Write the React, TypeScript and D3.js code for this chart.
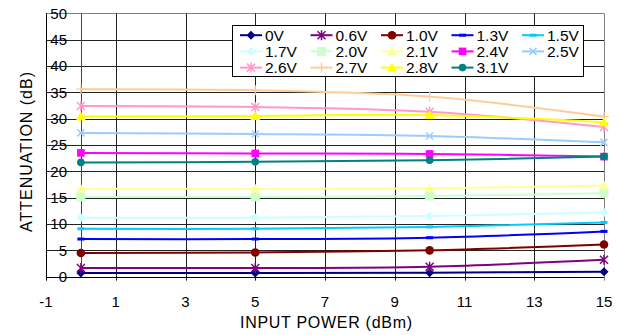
import * as d3 from "d3";

if (typeof document !== "undefined") document.body.style.margin = "0";

const powers = [0, 5, 10, 15];
const seriesNames = ["0V", "0.6V", "1.0V", "1.3V", "1.5V", "1.7V", "2.0V", "2.1V", "2.4V", "2.5V", "2.6V", "2.7V", "2.8V", "3.1V"];
const v0 = [0.7, 0.7, 0.76, 0.95];
const v06 = [1.65, 1.65, 1.9, 3.2];
const v10 = [4.5, 4.6, 5.0, 6.1];
const v13 = [7.15, 7.15, 7.4, 8.6];
const v15 = [9.1, 9.1, 9.45, 10.3];
const v17 = [11.2, 11.2, 11.5, 12.2];
const v20 = [15.15, 15.15, 15.3, 15.85];
const v21 = [16.7, 16.7, 16.8, 17.3];
const v24 = [23.5, 23.4, 23.3, 22.8];
const v25 = [27.3, 27.1, 26.7, 25.5];
const v26 = [32.4, 32.2, 31.3, 28.4];
const v27 = [35.6, 35.4, 34.2, 30.4];
const v28 = [30.4, 30.5, 30.7, 29.3];
const v31 = [21.7, 21.8, 22.1, 22.8];
const seriesValues = [v0, v06, v10, v13, v15, v17, v20, v21, v24, v25, v26, v27, v28, v31];
const colors = ["#000080", "#800080", "#800000", "#0000FF", "#00CCFF", "#CCFFFF", "#CCFFCC", "#FFFF99", "#FF00FF", "#99CCFF", "#FF99CC", "#FFCC99", "#FFFF00", "#008080"];
const markers = ["diamond", "asterisk", "circle", "dash", "dash", "diamond", "square", "triangle", "square", "cross", "asterisk", "plus", "triangle", "circle"];
const xTicks = [-1, 1, 3, 5, 7, 9, 11, 13, 15];
const yTicks = [0, 5, 10, 15, 20, 25, 30, 35, 40, 45, 50];

const W = 626;
const H = 335;
const left = 46;
const right = 604;
const top = 13.3;
const bottom = 276.7;
const font = "Liberation Sans, Arial, sans-serif";

// snap to pixel centre so 1px lines stay crisp
const crisp = (v: number) => Math.round(v) + 0.5;

function Marker({ type, x, y, color }: { type: string; x: number; y: number; color: string }) {
  switch (type) {
    case "diamond":
      return <path d={`M${x},${y - 4.5}L${x + 4.5},${y}L${x},${y + 4.5}L${x - 4.5},${y}Z`} fill={color} />;
    case "circle":
      return <circle cx={x} cy={y} r={color === "#008080" ? 3.8 : 4.3} fill={color} />;
    case "square":
      return color === "#CCFFCC"
        ? <rect x={x - 4.5} y={y - 4.5} width={9} height={9} fill={color} />
        : <rect x={x - 3.8} y={y - 3.8} width={7.6} height={7.6} fill={color} />;
    case "triangle":
      return <path d={`M${x},${y - 5}L${x + 5},${y + 4}L${x - 5},${y + 4}Z`} fill={color} />;
    case "dash":
      return <line x1={x - 3.5} x2={x + 3.5} y1={y} y2={y} stroke={color} strokeWidth={3} />;
    case "cross":
      return (
        <path d={`M${x - 3.5},${y - 3.5}L${x + 3.5},${y + 3.5}M${x - 3.5},${y + 3.5}L${x + 3.5},${y - 3.5}`} stroke={color} strokeWidth={1.5} />
      );
    case "plus":
      return <path d={`M${x - 5},${y}L${x + 5},${y}M${x},${y - 5}L${x},${y + 5}`} stroke={color} strokeWidth={1.3} />;
    case "asterisk":
    default:
      return (
        <path
          d={`M${x - 4},${y - 4}L${x + 4},${y + 4}M${x - 4},${y + 4}L${x + 4},${y - 4}M${x},${y - 5}L${x},${y + 5}`}
          stroke={color}
          strokeWidth={1.5}
        />
      );
  }
}

export default function App() {
  const x = d3.scaleLinear().domain([-1, 15]).range([left, right]);
  const y = d3.scaleLinear().domain([0, 50]).range([bottom, top]);
  const line = d3
    .line<number>()
    .x((_, i) => x(powers[i]))
    .y((d) => y(d))
    .curve(d3.curveCatmullRom.alpha(0.5));

  const legendX = 232.5;
  const legendY = 25.5;
  const colW = 70.5;
  const rowH = 16.2;

  return (
    <svg width={W} height={H} style={{ display: "block", background: "#fff" }}>
      {/* grid */}
      {yTicks.slice(1).map((t) => (
        <line key={`h${t}`} x1={left} x2={right} y1={crisp(y(t))} y2={crisp(y(t))} stroke={t === 50 ? "#808080" : "#222"} strokeWidth={1} />
      ))}
      {xTicks.slice(1).map((t) => (
        <line key={`v${t}`} x1={crisp(x(t))} x2={crisp(x(t))} y1={top} y2={bottom + 4} stroke={t === 15 ? "#808080" : "#222"} strokeWidth={1} />
      ))}
      <line x1={crisp(x(0))} x2={crisp(x(0))} y1={top} y2={bottom} stroke="#444" strokeWidth={1} />
      <line x1={crisp(left)} x2={crisp(left)} y1={top} y2={bottom + 4} stroke="#000" strokeWidth={1} />
      <line x1={left} x2={right} y1={crisp(bottom)} y2={crisp(bottom)} stroke="#000" strokeWidth={1} />

      {/* y tick labels */}
      {yTicks.map((t) => (
        <text key={`yl${t}`} x={67} y={y(t) + 5.3} textAnchor="end" fontFamily={font} fontSize={15} fill="#000">
          {t}
        </text>
      ))}
      {/* x tick labels */}
      {xTicks.map((t) => (
        <text key={`xl${t}`} x={x(t)} y={306.5} textAnchor="middle" fontFamily={font} fontSize={15} fill="#000">
          {t}
        </text>
      ))}

      {/* series */}
      {seriesValues.map((vals, i) => (
        <g key={seriesNames[i]}>
          <path d={line(vals) || ""} fill="none" stroke={colors[i]} strokeWidth={2} />
          {vals.map((v, j) => (
            <Marker key={j} type={markers[i]} x={x(powers[j])} y={y(v)} color={colors[i]} />
          ))}
        </g>
      ))}

      {/* legend */}
      <rect x={legendX} y={legendY} width={351} height={51} fill="#fff" stroke="#000" strokeWidth={1} />
      {seriesNames.map((name, i) => {
        const col = i % 5;
        const row = Math.floor(i / 5);
        const lx = legendX + 7.5 + col * colW;
        const ly = legendY + 9.7 + row * rowH;
        return (
          <g key={`lg${name}`}>
            <line x1={lx} x2={lx + 22} y1={ly} y2={ly} stroke={colors[i]} strokeWidth={2} />
            <Marker type={markers[i]} x={lx + 11} y={ly} color={colors[i]} />
            <text x={lx + 25} y={ly + 5.4} fontFamily={font} fontSize={15.5} fill="#000">
              {name}
            </text>
          </g>
        );
      })}

      {/* axis titles */}
      <text x={326} y={327.5} textAnchor="middle" fontFamily={font} fontSize={16} textLength={172} fill="#000">
        INPUT POWER (dBm)
      </text>
      <text
        transform={`translate(32,152) rotate(-90)`}
        textAnchor="middle"
        fontFamily={font}
        fontSize={16}
        textLength={160}
        fill="#000"
      >
        ATTENUATION (dB)
      </text>
    </svg>
  );
}
